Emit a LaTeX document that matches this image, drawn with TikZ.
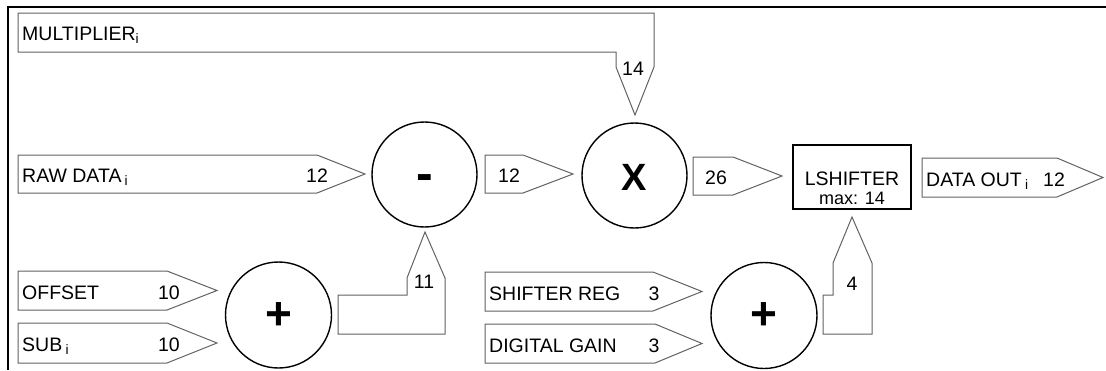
\documentclass[tikz,border=0pt]{standalone}
\usepackage{fontspec}
\setmainfont{Liberation Sans}
\usetikzlibrary{calc}

\begin{document}
\begin{tikzpicture}[x=1pt, y=-1pt, line join=miter,
	font=\fontsize{19.5}{21}\selectfont,
	sig/.style={draw=black!62, line width=1pt},
	op/.style={circle, draw, line width=1.4pt, minimum size=105pt, inner sep=0pt},
	opsign/.style={inner sep=0pt, font=\fontsize{#1}{#1}\selectfont\bfseries},
	txt/.style={inner sep=0pt, anchor=base west},
	val/.style={inner sep=0pt, anchor=base}]
	\useasboundingbox (0,0) rectangle (1106,370);
	% frame
	\draw[line width=2.3pt] (8,370) -- (8,7) -- (1106,7);
	% operators
	\node[op] (sub) at (424.5,174.5) {};
	\node[op] (mul) at (634.5,175.5) {};
	\node[op, minimum size=106pt] (addoff) at (278.5,315) {};
	\node[op, minimum size=106pt] (addgain) at (764,315.5) {};
	\node[opsign=50, anchor=base] at ($(sub)+(0,16)$) {-};
	\node[opsign=38] at ($(mul)+(0,2)$) {X};
	\node[opsign=46] at ($(addoff)+(0,1)$) {+};
	\node[opsign=46] at ($(addgain)+(0,1)$) {+};
	\node[draw, line width=1.8pt, minimum width=118pt, minimum height=64pt] (lsh) at (852,177) {};
	\node[val] at ($(lsh.center)+(0,8)$) {LSHIFTER};
	\node[val, font=\fontsize{18}{19}\selectfont] at ($(lsh.center)+(0,27)$) {max: 14};
	% signal arrows: name/left/top/bottom/slant/tip/value x/label/value
	\foreach \n/\l/\t/\b/\s/\p/\vx/\lab/\v in {
		raw/18/155/193/317/365/317/{RAW DATA\,\textsubscript{i}}/12,
		diff/485/155/193/523/573/509/{}/12,
		prod/693/157/195/733/782/716/{}/26,
		out/922/158/197/1057/1103/1054/{DATA OUT\,\textsubscript{i}}/12,
		off/18/271/310/167/217/169/{OFFSET}/10,
		sb/18/323/363/167/217/169/{SUB\,\textsubscript{i}}/10,
		sreg/485/272/311/653/702/654/{SHIFTER REG}/3,
		dgain/485/324/363/655/702/654/{DIGITAL GAIN}/3}
	{
		\draw[sig] (\l,\t) -- (\s,\t) -- (\p,{(\t+\b)/2}) -- (\s,\b) -- (\l,\b) -- cycle;
		\node[txt] (\n-lab) at (\l+4,{(\t+\b)/2+8.5}) {\lab};
		\node[val] (\n-val) at (\vx,{(\t+\b)/2+8.5}) {\v};
	}
	% bent arrows into the operators
	\draw[sig] (18,13) -- (654,13) -- (654,67) -- (635,115) -- (616,67) -- (616,52) -- (18,52) -- cycle;
	\node[txt] (mult-lab) at (22,40) {MULTIPLIER\textsubscript{i}};
	\node[val] (mult-val) at (633,75) {14};
	\draw[sig] (338,334) -- (338,295) -- (407,295) -- (407,278) -- (425,232) -- (445,278) -- (445,334) -- cycle;
	\node[val] (offs-val) at (424,288) {11};
	\draw[sig] (823,334) -- (823,295) -- (833,295) -- (833,263) -- (852,217) -- (872,263) -- (872,334) -- cycle;
	\node[val] (gain-val) at (852,290) {4};
\end{tikzpicture}
\end{document}
